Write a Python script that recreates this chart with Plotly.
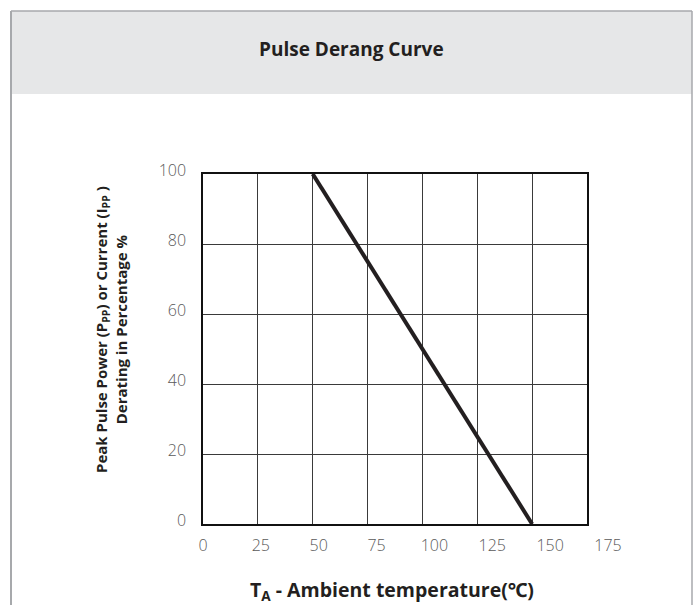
import plotly.graph_objects as go

# ---- data ----
temperature_c = [50, 150]
derating_pct = [100, 0]
x_tick_vals = [0, 25, 50, 75, 100, 125, 150, 175]
x_tick_text = ["0", "25", "50", "75", "100", "125", "150", "175"]
y_tick_vals = [0, 20, 40, 60, 80, 100]
y_tick_text = ["0", "20", "40", "60", "80", "100"]

title_text = "Pulse Derang Curve"
x_title = "<b>T<sub>A</sub> - Ambient temperature(℃)</b>"
y_title = "<b>Peak Pulse Power (P<sub>PP</sub>) or Current (I<sub>PP</sub> )<br>Derating in Percentage %</b>"

# ---- layout geometry (pixels) ----
W, H = 697, 605
L, R_EDGE, T, B = 203, 608, 174, 524   # plot area incl. label axis
GRID_R = 587                            # right edge of gridded area
PW, PH = R_EDGE - L, B - T

def px(x):
    return (x - L) / PW

def py(y):
    return (B - y) / PH

dark = "#231f20"
font_family = "Open Sans, Noto Sans, DejaVu Sans, sans-serif"

fig = go.Figure()
fig.add_trace(go.Scatter(
    x=temperature_c, y=derating_pct, mode="lines",
    line=dict(color=dark, width=4), cliponaxis=False,
    showlegend=False, hoverinfo="skip",
))
# invisible trace to carry the labelling axis
fig.add_trace(go.Scatter(
    x=x_tick_vals, y=[0] * len(x_tick_vals), xaxis="x2", yaxis="y2",
    mode="markers", marker=dict(opacity=0), showlegend=False, hoverinfo="skip",
))

border = "#a7a9ac"
shapes = [
    dict(type="rect", xref="paper", yref="paper",
         x0=px(11), x1=px(692), y0=py(94), y1=py(11),
         fillcolor="#e6e7e8", line=dict(width=0), layer="below"),
    dict(type="line", xref="paper", yref="paper",
         x0=px(11), x1=px(692), y0=py(11), y1=py(11),
         line=dict(color=border, width=1.5)),
    dict(type="line", xref="paper", yref="paper",
         x0=px(11), x1=px(11), y0=py(11), y1=py(610),
         line=dict(color=border, width=2)),
    dict(type="line", xref="paper", yref="paper",
         x0=px(692), x1=px(692), y0=py(11), y1=py(610),
         line=dict(color=border, width=1.5)),
]

annotations = [
    dict(text="<b>" + title_text + "</b>", xref="paper", yref="paper",
         x=px(351), y=py(49), showarrow=False, xanchor="center", yanchor="middle",
         font=dict(size=19, color=dark, family=font_family)),
    dict(text=x_title, xref="paper", yref="paper",
         x=px(392), y=py(590), showarrow=False, xanchor="center", yanchor="middle",
         font=dict(size=19.5, color=dark, family=font_family)),
    dict(text=y_title, xref="paper", yref="paper", textangle=-90,
         x=px(111), y=py(330), showarrow=False, xanchor="center", yanchor="middle",
         font=dict(size=15, color=dark, family=font_family)),
]

tick_font = dict(size=16, color="#5a5a5a", family=font_family, weight=300)

fig.update_layout(
    width=W, height=H,
    margin=dict(l=L, r=W - R_EDGE, t=T, b=H - B, autoexpand=False),
    paper_bgcolor="white", plot_bgcolor="rgba(0,0,0,0)",
    font=dict(family=font_family),
    shapes=shapes, annotations=annotations,
    xaxis=dict(
        domain=[0, (GRID_R - L) / PW], range=[0, 175],
        tickvals=x_tick_vals, showticklabels=False, ticks="",
        showgrid=True, gridcolor="#3a3a3a", gridwidth=1,
        showline=True, linecolor="#111", linewidth=1.5, mirror=True,
        zeroline=False, anchor="y",
    ),
    yaxis=dict(
        domain=[0, 1], range=[0, 100], tickvals=y_tick_vals, ticktext=y_tick_text,
        ticks="", showgrid=True, gridcolor="#3a3a3a", gridwidth=1,
        showline=True, linecolor="#111", linewidth=1.5, mirror=True,
        zeroline=False, anchor="x",
        tickfont=tick_font, ticklabelstandoff=12, ticklabelshift=-4,
    ),
    xaxis2=dict(
        domain=[0, 1], range=[0, 175], anchor="y2",
        tickvals=x_tick_vals, ticktext=x_tick_text, ticks="",
        showgrid=False, showline=False, zeroline=False,
        tickfont=tick_font, ticklabelstandoff=10,
    ),
    yaxis2=dict(
        domain=[0, 1], range=[0, 100], anchor="x2",
        showgrid=False, showline=False, zeroline=False,
        showticklabels=False, ticks="",
    ),
)

fig.write_html("out.html", config={"displayModeBar": False},
               post_script="document.body.style.margin='0';")
